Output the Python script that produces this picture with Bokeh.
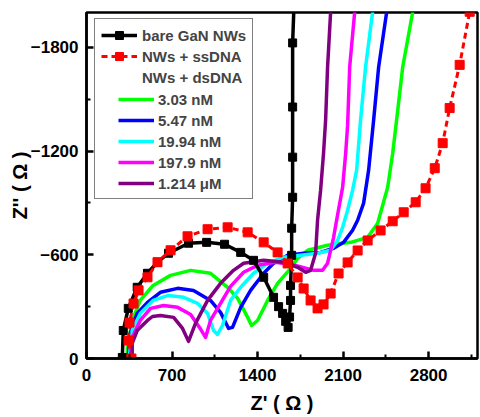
from bokeh.plotting import figure
from bokeh.models import Range1d, FixedTicker, Legend, LegendItem
from bokeh.embed import file_html
from bokeh.resources import INLINE

# ---------------- data (Z' in ohm, -Z'' in ohm) ----------------
bare_zre = [293, 301, 342, 415, 499, 581, 671, 835, 983, 1130, 1262, 1367, 1450, 1531,
            1572, 1605, 1630, 1650, 1662, 1670, 1670, 1679, 1679, 1687, 1687, 1687, 1687, 1699]
bare_mzim = [6, 162, 290, 412, 493, 557, 609, 667, 672, 661, 614, 568, 470, 354,
             300, 261, 215, 180, 240, 336, 423, 597, 754, 933, 1165, 1455, 1826, 2060]

ss_zre = [368, 344, 352, 385, 426, 499, 581, 688, 827, 991, 1155, 1319, 1450, 1564, 1646,
          1728, 1777, 1834, 1891, 1940, 1998, 2063, 2137, 2219, 2301, 2407, 2506, 2596,
          2694, 2775, 2850, 2915, 2972, 3054, 3136]
ss_mzim = [0, 104, 208, 318, 394, 470, 557, 626, 707, 748, 759, 730, 672, 614, 550,
           469, 405, 336, 290, 313, 376, 492, 556, 625, 683, 741, 794, 846,
           904, 985, 1101, 1246, 1449, 1699, 2006]

c1_zre = [334, 334, 374, 440, 545, 688, 852, 1015, 1155, 1237, 1319, 1351, 1400, 1482,
          1564, 1671, 1728, 1810, 1973, 2162, 2301, 2383, 2465, 2506, 2538, 2588, 2670]
c1_mzim = [0, 64, 220, 336, 423, 481, 510, 493, 412, 348, 238, 191, 220, 336,
           435, 522, 580, 626, 655, 672, 701, 783, 991, 1188, 1380, 1687, 2006]

c2_zre = [342, 358, 415, 499, 605, 746, 876, 1015, 1097, 1163, 1195, 1262, 1343, 1450,
          1531, 1646, 1777, 1916, 2023, 2104, 2178, 2219, 2268, 2309, 2350, 2391, 2457]
c2_mzim = [6, 145, 261, 325, 383, 406, 394, 336, 267, 174, 180, 296, 394, 493,
           551, 597, 609, 614, 638, 672, 742, 800, 899, 1090, 1380, 1687, 2006]

c3_zre = [350, 374, 440, 545, 671, 795, 909, 991, 1040, 1072, 1113, 1179, 1262, 1367,
          1482, 1613, 1753, 1891, 1998, 2055, 2096, 2137, 2178, 2211, 2243, 2284, 2342]
c3_mzim = [6, 162, 261, 336, 365, 354, 319, 261, 162, 139, 191, 336, 412, 493,
           551, 586, 597, 609, 626, 684, 759, 858, 974, 1090, 1380, 1687, 2006]

c4_zre = [358, 374, 440, 524, 631, 746, 852, 925, 974, 1015, 1097, 1179, 1286, 1400,
          1547, 1712, 1859, 1932, 1973, 1998, 2022, 2047, 2096, 2121, 2137, 2154, 2195]
c4_mzim = [0, 122, 220, 290, 307, 296, 255, 180, 122, 220, 319, 417, 499, 539,
           557, 539, 510, 510, 551, 626, 700, 800, 990, 1187, 1350, 1687, 2006]

c5_zre = [374, 374, 415, 499, 540, 605, 713, 786, 835, 892, 991, 1097, 1203, 1286,
          1450, 1613, 1728, 1794, 1834, 1875, 1891, 1916, 1940, 1957, 1973, 1998]
c5_mzim = [0, 87, 162, 220, 243, 249, 238, 174, 99, 203, 336, 435, 510, 551,
           568, 557, 528, 499, 510, 609, 800, 974, 1188, 1380, 1687, 2006]

conc_labels = ["3.03 nM", "5.47 nM", "19.94 nM", "197.9 nM", "1.214 \u03bcM"]
conc_colors = ["#00ff00", "#0000ff", "#00ffff", "#ff00ff", "#800080"]

x_ticks = [0, 700, 1400, 2100, 2800]
x_minor = [350, 1050, 1750, 2450, 3150]
y_ticks = [0, -600, -1200, -1800]
y_minor = [-300, -900, -1500]

FONT = "Liberation Sans"

p = figure(width=480, height=417, x_range=Range1d(0, 3200), y_range=Range1d(0, -2002),
           output_backend="svg", toolbar_location=None,
           min_border_left=86, min_border_right=3, min_border_top=12, min_border_bottom=59)
p.xgrid.visible = False
p.ygrid.visible = False
p.outline_line_color = "black"
p.outline_line_width = 2.5
p.outline_line_alpha = 1.0

p.xaxis.ticker = FixedTicker(ticks=x_ticks, minor_ticks=x_minor)
p.yaxis.ticker = FixedTicker(ticks=y_ticks, minor_ticks=y_minor)
for ax in (p.xaxis[0], p.yaxis[0]):
    ax.axis_line_width = 2.5
    ax.major_tick_line_width = 2.5
    ax.minor_tick_line_width = 2
    ax.major_tick_in = 7
    ax.major_tick_out = 0
    ax.minor_tick_in = 4
    ax.minor_tick_out = 0
    ax.major_label_text_font = FONT
    ax.major_label_text_font_style = "bold"
    ax.major_label_text_font_size = "17px"
    ax.major_label_text_color = "black"
    ax.axis_label_text_font = FONT
    ax.axis_label_text_font_style = "bold"
    ax.axis_label_text_font_size = "20px"
    ax.axis_label_text_color = "black"
p.xaxis.major_label_standoff = 10
p.xaxis.axis_label_standoff = 8
p.yaxis.major_label_standoff = 8
p.yaxis.axis_label_standoff = -3
p.xaxis.axis_label = "Z' ( \u03a9 )"
p.yaxis.axis_label = "Z'' ( \u03a9 )"

def neg(vals):
    return [-v for v in vals]

conc_sets = [(c1_zre, c1_mzim), (c2_zre, c2_mzim), (c3_zre, c3_mzim),
             (c4_zre, c4_mzim), (c5_zre, c5_mzim)]
conc_renderers = []
for (zx, zy), col in zip(conc_sets, conc_colors):
    r = p.line(zx, neg(zy), line_color=col, line_width=3.5, line_join="round")
    conc_renderers.append(r)

bare_line = p.line(bare_zre, neg(bare_mzim), line_color="black", line_width=3.5, line_join="round")
bare_pts = p.scatter(bare_zre, neg(bare_mzim), marker="square", size=8,
                     fill_color="black", line_color="black")

ss_line = p.line(ss_zre, neg(ss_mzim), line_color="red", line_width=3, line_dash="6 4")
ss_pts = p.scatter(ss_zre, neg(ss_mzim), marker="square", size=9,
                   fill_color="red", line_color="red")

blank = p.line(x=[], y=[], line_alpha=0)

legend1 = Legend(items=[
    LegendItem(label="bare GaN NWs", renderers=[bare_line, bare_pts]),
    LegendItem(label="NWs + ssDNA", renderers=[ss_line, ss_pts]),
    LegendItem(label="NWs + dsDNA", renderers=[blank]),
] + [LegendItem(label=" ", renderers=[blank]) for _ in range(5)],
    location=(8, 159), padding=6, margin=0, spacing=1,
    label_height=20, glyph_height=20, glyph_width=36, label_standoff=5,
    label_text_font=FONT, label_text_font_style="bold", label_text_font_size="15px",
    border_line_color="black", border_line_width=1.5, background_fill_color="white",
    background_fill_alpha=1.0)

legend2 = Legend(items=[LegendItem(label=lab, renderers=[r])
                        for lab, r in zip(conc_labels, conc_renderers)],
    location=(32, 165), padding=0, margin=0, spacing=1,
    label_height=20, glyph_height=20, glyph_width=36, label_standoff=4,
    label_text_font=FONT, label_text_font_style="bold", label_text_font_size="15px",
    border_line_alpha=0, background_fill_alpha=0)

p.add_layout(legend1, "center")
p.add_layout(legend2, "center")

open("out.html", "w").write(file_html(p, INLINE))
